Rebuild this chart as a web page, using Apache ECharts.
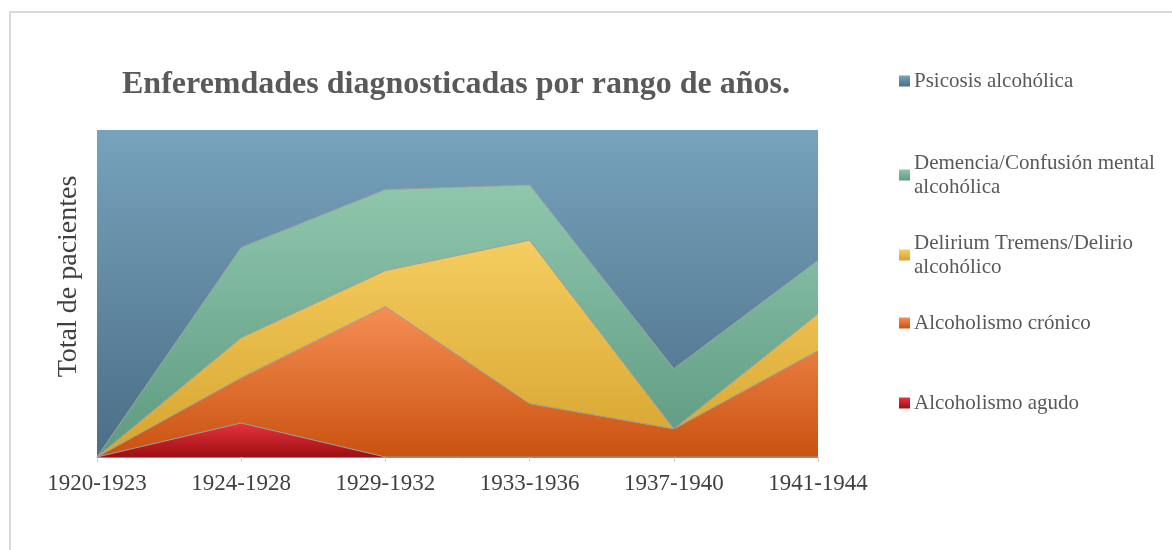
<!DOCTYPE html>
<html>
<head>
<meta charset="utf-8">
<script src="https://cdn.jsdelivr.net/npm/echarts@6/dist/echarts.min.js"></script>
<style>
  html, body { margin: 0; padding: 0; background: #fff; }
  #chart { width: 1172px; height: 550px; }
</style>
</head>
<body>
<div id="chart"></div>
<script>
var categories = ['1920-1923', '1924-1928', '1929-1932', '1933-1936', '1937-1940', '1941-1944'];

// stacked values, bottom series first (top of stack = 100)
var agudo     = [0, 10.4, 0, 0, 0, 0];
var cronico   = [0, 13.8, 46.0, 16.3, 8.6, 32.5];
var delirium  = [0, 12.3, 11.0, 50.0, 0, 11.3];
var demencia  = [0, 27.6, 24.8, 16.9, 18.4, 16.3];
var psicosis  = [100, 35.9, 18.2, 16.8, 73.0, 39.9];

var names = ['Alcoholismo agudo', 'Alcoholismo crónico', 'Delirium Tremens/Delirio alcohólico',
             'Demencia/Confusión mental alcohólica', 'Psicosis alcohólica'];

var fontFam = 'Liberation Serif';

function grad(top, bottom) {
    return new echarts.graphic.LinearGradient(0, 0, 0, 1, [
        { offset: 0, color: top },
        { offset: 1, color: bottom }
    ]);
}

var colors = [
    ['#e8333f', '#9c0f12'],
    ['#f68e55', '#c9520f'],
    ['#f5cd60', '#d6a42e'],
    ['#8fc7ad', '#5c9a80'],
    ['#77a3bc', '#4a6e86']
];

var values = [agudo, cronico, delirium, demencia, psicosis];

var legendLabel = {
    'Psicosis alcohólica': 'Psicosis alcohólica',
    'Demencia/Confusión mental alcohólica': 'Demencia/Confusión mental\nalcohólica',
    'Delirium Tremens/Delirio alcohólico': 'Delirium Tremens/Delirio\nalcohólico',
    'Alcoholismo crónico': 'Alcoholismo crónico',
    'Alcoholismo agudo': 'Alcoholismo agudo'
};

function makeLegend(name, top) {
    return {
        data: [name],
        orient: 'vertical',
        left: 894,
        top: top,
        itemWidth: 11,
        itemHeight: 11,
        icon: 'rect',
        formatter: function (n) { return legendLabel[n]; },
        textStyle: { fontFamily: fontFam, fontSize: 21, lineHeight: 24, color: '#595959', padding: [0, 0, 0, -1] },
        selectedMode: false
    };
}

var series = values.map(function (v, i) {
    return {
        name: names[i],
        type: 'line',
        stack: 'total',
        data: v,
        symbol: 'none',
        lineStyle: { width: i === 4 ? 0 : 1, color: '#9b9b9b' },
        areaStyle: { color: grad(colors[i][0], colors[i][1]), opacity: 1 },
        itemStyle: { color: grad(colors[i][0], colors[i][1]) },
        z: 2 + (4 - i)
    };
});

var chart = echarts.init(document.getElementById('chart'));
chart.setOption({
    backgroundColor: '#ffffff',
    animation: false,
    title: {
        text: 'Enferemdades diagnosticadas por rango de años.',
        left: 117,
        top: 64,
        textStyle: { fontFamily: fontFam, fontSize: 32, fontWeight: 'bold', color: '#595959' }
    },
    legend: [
        makeLegend('Psicosis alcohólica', 64),
        makeLegend('Demencia/Confusión mental alcohólica', 146),
        makeLegend('Delirium Tremens/Delirio alcohólico', 226),
        makeLegend('Alcoholismo crónico', 306),
        makeLegend('Alcoholismo agudo', 386)
    ],
    graphic: [{
        type: 'rect',
        shape: { x: 10, y: 12, width: 1200, height: 600 },
        style: { fill: 'none', stroke: '#d9d9d9', lineWidth: 2 },
        silent: true
    }],
    grid: { left: 97, top: 130, width: 721, height: 327 },
    xAxis: {
        type: 'category',
        data: categories,
        boundaryGap: false,
        axisLine: { lineStyle: { color: '#8c8c8c', width: 1 } },
        axisTick: { show: true, length: 5, lineStyle: { color: '#d0d0d0' } },
        axisLabel: { fontFamily: fontFam, fontSize: 23, color: '#404040', margin: 15 },
        splitLine: { show: false }
    },
    yAxis: {
        type: 'value',
        min: 0,
        max: 100,
        name: 'Total de pacientes',
        nameLocation: 'middle',
        nameRotate: 90,
        nameGap: 14,
        nameTextStyle: { fontFamily: fontFam, fontSize: 28, color: '#404040', padding: [0, 0, 0, 34] },
        axisLine: { show: false },
        axisTick: { show: false },
        axisLabel: { show: false },
        splitLine: { show: false }
    },
    series: series
});
</script>
</body>
</html>
